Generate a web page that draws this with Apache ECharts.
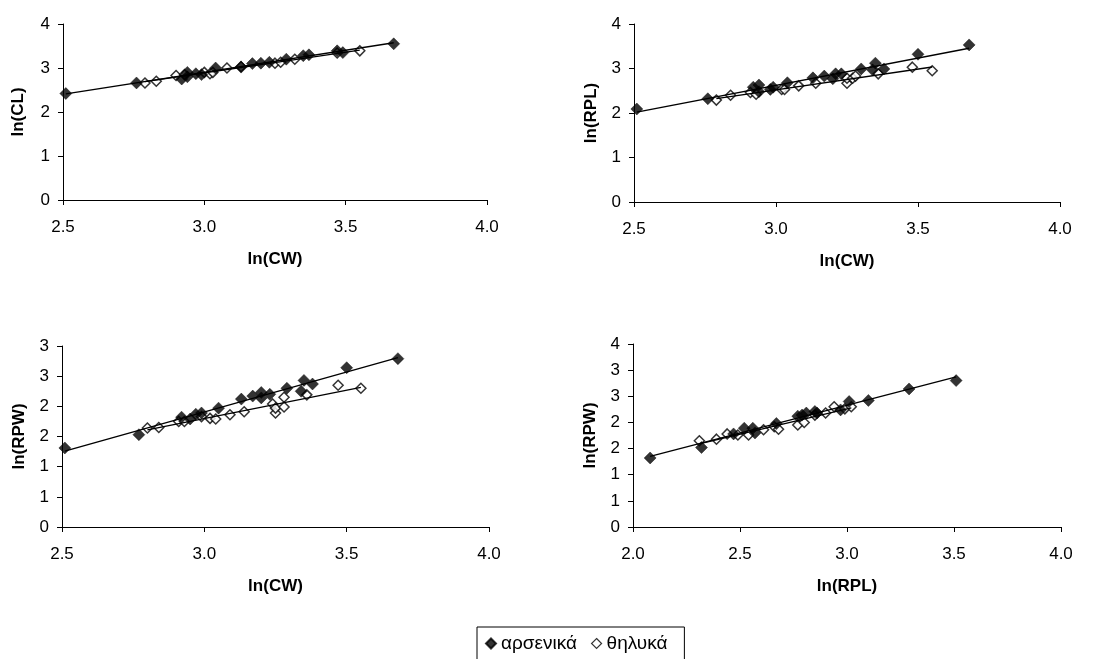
<!DOCTYPE html>
<html>
<head>
<meta charset="utf-8">
<script src="https://cdn.jsdelivr.net/npm/echarts@6/dist/echarts.min.js"></script>
<style>
html,body{margin:0;padding:0;background:#fff;}
#c{width:1104px;height:659px;}
</style>
</head>
<body>
<div id="c"></div>
<script>
// ---------- DATA ----------
const seriesNames = ['αρσενικά', 'θηλυκά'];

// Panel 1: ln(CL) vs ln(CW)
const p1MaleX = [2.51, 2.76, 2.92, 2.94, 2.94, 2.97, 2.99, 3.04, 3.13, 3.17, 3.20, 3.23, 3.29, 3.35, 3.37, 3.47, 3.49, 3.67];
const p1MaleY = [2.42, 2.66, 2.75, 2.90, 2.80, 2.87, 2.85, 3.00, 3.02, 3.10, 3.11, 3.13, 3.20, 3.28, 3.30, 3.39, 3.35, 3.55];
const p1FemX = [2.79, 2.83, 2.90, 2.93, 3.00, 3.02, 3.03, 3.08, 3.13, 3.25, 3.27, 3.32, 3.47, 3.55];
const p1FemY = [2.66, 2.70, 2.83, 2.85, 2.90, 2.87, 2.90, 3.00, 3.03, 3.11, 3.13, 3.20, 3.34, 3.39];

// Panel 2: ln(RPL) vs ln(CW)
const p2MaleX = [2.51, 2.76, 2.92, 2.94, 2.94, 2.98, 2.99, 3.04, 3.13, 3.17, 3.20, 3.21, 3.23, 3.30, 3.34, 3.35, 3.38, 3.50, 3.68];
const p2MaleY = [2.09, 2.32, 2.58, 2.63, 2.48, 2.53, 2.58, 2.68, 2.79, 2.83, 2.77, 2.88, 2.88, 2.99, 2.97, 3.12, 2.99, 3.32, 3.53];
const p2FemX = [2.79, 2.84, 2.91, 2.93, 3.02, 3.03, 3.08, 3.14, 3.25, 3.25, 3.27, 3.28, 3.36, 3.48, 3.55];
const p2FemY = [2.29, 2.40, 2.46, 2.42, 2.53, 2.53, 2.61, 2.67, 2.67, 2.78, 2.78, 2.83, 2.88, 3.03, 2.95];

// Panel 3: ln(RPW) vs ln(CW)
const p3MaleX = [2.51, 2.77, 2.92, 2.95, 2.97, 2.99, 3.05, 3.13, 3.17, 3.20, 3.20, 3.23, 3.29, 3.34, 3.35, 3.38, 3.50, 3.68];
const p3MaleY = [1.31, 1.53, 1.82, 1.79, 1.87, 1.89, 1.97, 2.12, 2.17, 2.23, 2.14, 2.20, 2.30, 2.25, 2.43, 2.37, 2.64, 2.79];
const p3FemX = [2.80, 2.84, 2.91, 2.93, 2.99, 3.02, 3.04, 3.09, 3.14, 3.24, 3.25, 3.25, 3.28, 3.28, 3.36, 3.47, 3.55];
const p3FemY = [1.64, 1.65, 1.75, 1.75, 1.83, 1.80, 1.79, 1.86, 1.91, 2.04, 1.89, 1.97, 2.15, 1.99, 2.19, 2.35, 2.30];

// Panel 4: ln(RPW) vs ln(RPL)
const p4MaleX = [2.08, 2.32, 2.47, 2.52, 2.56, 2.57, 2.67, 2.77, 2.79, 2.81, 2.85, 2.86, 2.97, 3.01, 3.10, 3.29, 3.51];
const p4MaleY = [1.32, 1.52, 1.78, 1.89, 1.89, 1.80, 1.98, 2.12, 2.14, 2.18, 2.21, 2.18, 2.24, 2.40, 2.42, 2.64, 2.80];
const p4FemX = [2.31, 2.39, 2.44, 2.49, 2.54, 2.61, 2.66, 2.68, 2.77, 2.80, 2.85, 2.90, 2.94, 2.99, 3.02];
const p4FemY = [1.65, 1.68, 1.78, 1.76, 1.76, 1.86, 1.92, 1.87, 1.95, 2.00, 2.14, 2.18, 2.30, 2.26, 2.30];

// Tick labels
const xTicksCW = ['2.5', '3.0', '3.5', '4.0'];
const xTicksRPL = ['2.0', '2.5', '3.0', '3.5', '4.0'];
const yTicksP1 = ['0', '1', '2', '3', '4'];
const yTicksP2 = ['0', '1', '2', '3', '4'];
const yTicksP3 = ['0', '1', '1', '2', '2', '3', '3'];
const yTicksP4 = ['0', '1', '1', '2', '2', '3', '3', '4'];

// Axis titles
const axisTitles = [
  ['ln(CW)', 'ln(CL)'],
  ['ln(CW)', 'ln(RPL)'],
  ['ln(CW)', 'ln(RPW)'],
  ['ln(RPL)', 'ln(RPW)']
];

// ---------- BUILD ----------
function zip(xs, ys) { return xs.map((x, i) => [x, ys[i]]); }
function fit(xs, ys) {
  const n = xs.length;
  const mx = xs.reduce((a, b) => a + b, 0) / n;
  const my = ys.reduce((a, b) => a + b, 0) / n;
  let sxy = 0, sxx = 0;
  for (let i = 0; i < n; i++) { sxy += (xs[i] - mx) * (ys[i] - my); sxx += (xs[i] - mx) * (xs[i] - mx); }
  const b = sxy / sxx, a = my - b * mx;
  const x0 = Math.min(...xs), x1 = Math.max(...xs);
  return [[x0, a + b * x0], [x1, a + b * x1]];
}

const panels = [
  { grid: { left: 63, top: 24, width: 424, height: 176 }, xmin: 2.5, xint: 0.5, xt: xTicksCW, ymax: 4, yint: 1, yt: yTicksP1,
    m: [p1MaleX, p1MaleY], f: [p1FemX, p1FemY], nameGapY: 36 },
  { grid: { left: 634, top: 24, width: 426, height: 178 }, xmin: 2.5, xint: 0.5, xt: xTicksCW, ymax: 4, yint: 1, yt: yTicksP2,
    m: [p2MaleX, p2MaleY], f: [p2FemX, p2FemY], nameGapY: 34 },
  { grid: { left: 62, top: 346, width: 427, height: 181 }, xmin: 2.5, xint: 0.5, xt: xTicksCW, ymax: 3, yint: 0.5, yt: yTicksP3,
    m: [p3MaleX, p3MaleY], f: [p3FemX, p3FemY], nameGapY: 34 },
  { grid: { left: 633, top: 344, width: 428, height: 183 }, xmin: 2.0, xint: 0.5, xt: xTicksRPL, ymax: 3.5, yint: 0.5, yt: yTicksP4,
    m: [p4MaleX, p4MaleY], f: [p4FemX, p4FemY], nameGapY: 34 }
];

const FONT = '"Liberation Sans", Arial, sans-serif';
const grids = [], xAxes = [], yAxes = [], series = [];
const axisLine = { show: true, onZero: false, lineStyle: { color: '#000', width: 1 } };
const axisTick = { show: true, inside: false, length: 5, lineStyle: { color: '#000', width: 1 } };

panels.forEach((p, i) => {
  grids.push(p.grid);
  xAxes.push({
    type: 'value', gridIndex: i, min: p.xmin, max: 4.0, interval: p.xint,
    name: axisTitles[i][0], nameLocation: 'middle', nameGap: 51,
    nameTextStyle: { fontFamily: FONT, fontSize: 17, fontWeight: 'bold', color: '#000' },
    axisLine, axisTick, splitLine: { show: false },
    axisLabel: { margin: 19, fontFamily: FONT, fontSize: 17, color: '#000',
      formatter: (v) => p.xt[Math.round((v - p.xmin) / p.xint)] }
  });
  yAxes.push({
    type: 'value', gridIndex: i, min: 0, max: p.ymax, interval: p.yint,
    name: axisTitles[i][1], nameLocation: 'middle', nameGap: p.nameGapY,
    nameTextStyle: { fontFamily: FONT, fontSize: 17, fontWeight: 'bold', color: '#000' },
    axisLine, axisTick, splitLine: { show: false },
    axisLabel: { margin: 13, fontFamily: FONT, fontSize: 17, color: '#000',
      formatter: (v) => p.yt[Math.round(v / p.yint)] }
  });
  series.push({
    name: seriesNames[0], type: 'scatter', xAxisIndex: i, yAxisIndex: i,
    data: zip(p.m[0], p.m[1]), symbol: 'diamond', symbolSize: 12,
    itemStyle: { color: '#000', borderColor: '#000', borderWidth: 0.5 }, z: 3
  });
  series.push({
    name: seriesNames[1], type: 'scatter', xAxisIndex: i, yAxisIndex: i,
    data: zip(p.f[0], p.f[1]), symbol: 'diamond', symbolSize: 10,
    itemStyle: { color: '#fff', borderColor: '#000', borderWidth: 1.5 }, z: 2
  });
  series.push({
    name: 'trend-m-' + i, type: 'line', xAxisIndex: i, yAxisIndex: i,
    data: fit(p.m[0], p.m[1]), showSymbol: false, symbol: 'none', silent: true,
    lineStyle: { color: '#000', width: 1.3 }, z: 4
  });
  series.push({
    name: 'trend-f-' + i, type: 'line', xAxisIndex: i, yAxisIndex: i,
    data: fit(p.f[0], p.f[1]), showSymbol: false, symbol: 'none', silent: true,
    lineStyle: { color: '#000', width: 1.3 }, z: 4
  });
});

const chart = echarts.init(document.getElementById('c'), null, { renderer: 'canvas' });
chart.setOption({
  backgroundColor: '#fff',
  animation: false,
  grid: grids,
  xAxis: xAxes,
  yAxis: yAxes,
  legend: {
    data: [
      { name: seriesNames[0], icon: 'diamond', itemStyle: { color: '#000' } },
      { name: seriesNames[1], icon: 'diamond', itemStyle: { color: '#fff', borderColor: '#000', borderWidth: 1.2 } }
    ],
    left: 477, top: 627, orient: 'horizontal',
    padding: [7, 17, 12, 8], itemGap: 14, itemWidth: 10, itemHeight: 10,
    borderColor: '#000', borderWidth: 1, borderRadius: 0, backgroundColor: '#fff',
    textStyle: { fontFamily: FONT, fontSize: 19, color: '#000', padding: [0, 0, 0, 0] },
    selectedMode: false
  },
  series
});
</script>
</body>
</html>
